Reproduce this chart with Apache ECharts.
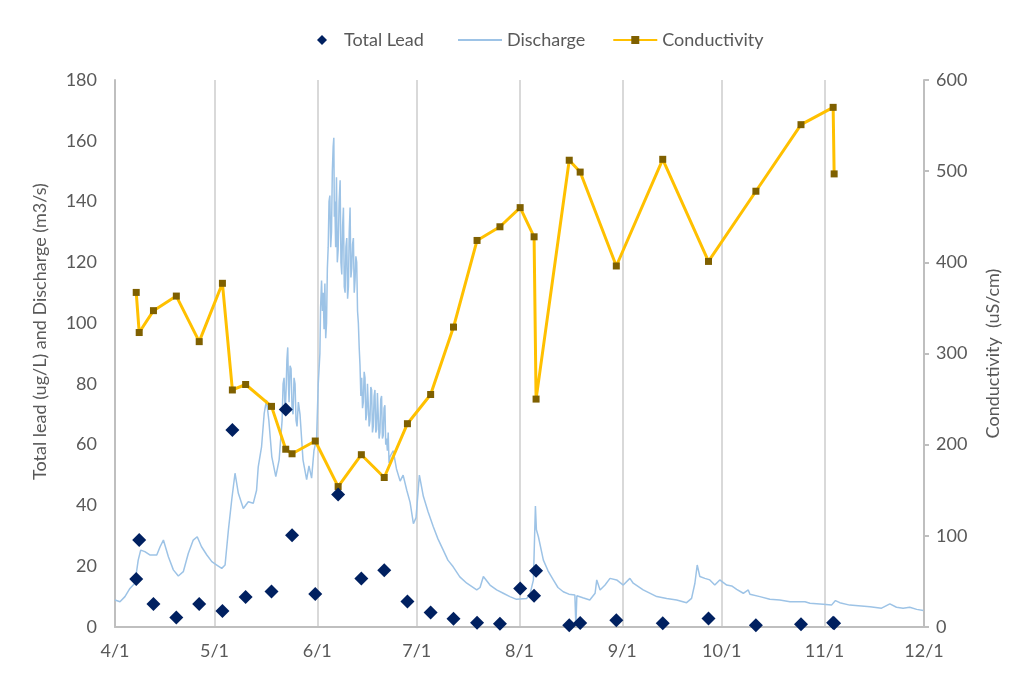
<!DOCTYPE html>
<html>
<head>
<meta charset="utf-8">
<script src="https://cdn.jsdelivr.net/npm/echarts@6/dist/echarts.min.js"></script>
<style>
  html, body { margin: 0; padding: 0; background: #fff; }
  #chart { width: 1028px; height: 675px; }
</style>
</head>
<body>
<div id="chart"></div>
<script>
// days counted from 4/1
var dischargeDay = [
  0, 1.5, 3, 4.5, 6, 7, 7.75, 9, 10.5, 12.6,
  13.6, 14.6, 16.1, 17.6, 19.1, 20.6, 22.1, 23.6, 24.8, 26.1,
  27.7, 29.2, 30.7, 32.2, 33.2, 34.2, 35.2, 36.2, 37.2, 38.7,
  40.2, 41.7, 42.7, 43.2, 44.2, 45, 45.7, 46.4, 47.3, 48.5,
  49.5,
  50.4, 50.7, 51, 51.3, 51.6, 51.85, 52.1, 52.3, 52.5, 52.8,
  53.1, 53.4, 53.7, 54, 54.3, 54.6, 54.9, 55.3, 55.8, 56.7,
  57.8, 58.5, 59.3, 60, 60.8, 61.3, 61.8,
  62, 62.3, 62.55, 62.8, 63.05, 63.3, 63.55, 63.8, 64.05, 64.3,
  64.55, 64.8, 65.05, 65.3, 65.55, 65.8, 66, 66.15, 66.3, 66.55,
  66.8, 67.05, 67.3, 67.6, 67.9, 68.15, 68.4, 68.65, 68.9, 69.15,
  69.4, 69.65, 69.9, 70.15, 70.4, 70.65, 70.9, 71.15, 71.4, 71.65,
  71.9, 72.15, 72.4, 72.65, 72.9, 73.15, 73.4, 73.65, 73.9, 74.15,
  74.4, 74.65, 74.9, 75.15, 75.4, 75.65, 75.9, 76.15, 76.4, 76.65,
  76.9, 77.15, 77.4, 77.65, 77.9, 78.15, 78.4, 78.65, 78.9, 79.15,
  79.4, 79.65, 79.9, 80.15, 80.4, 80.65, 80.9, 81.15, 81.4, 81.65,
  81.9, 82.15, 82.4, 82.65, 82.9,
  83.9, 84.9, 86, 86.9, 88, 89, 90, 90.8,
  91.8, 93, 94.4, 96, 97.4, 99, 100.4, 102, 104, 106.1,
  109.1, 110.1, 111.1, 113.1, 115.1, 117.1, 119.1, 121.1, 124.2, 125.2,
  126.2, 126.8, 127.1, 127.7, 129.2, 130.6, 132.2, 133.6, 135.2, 136.9,
  138.7, 139, 139.3, 141.1, 143.2, 144.8, 145.3, 146.3, 147.8, 149.3,
  151.3, 153.3, 155.3, 156.3, 159.3, 163.4, 166.4, 169.4, 172.4, 173.9,
  174.9, 175.6, 176.4, 177.9, 179.4, 180.9, 182.4, 184.5, 186, 187.5,
  189.5, 191, 191.5, 194.5, 197.5, 200.5, 203.6, 208.1, 209.6, 213.6,
  216.1, 217.3, 218.6, 221.6, 227.7, 231.2, 233.7, 235.7, 237.7, 239.7,
  241.8, 243.8
];
var dischargeValue = [
  8.9, 8.3, 10, 12.7, 14.4, 22, 25.3, 24.8, 23.7, 23.7,
  26.4, 28.6, 23.1, 18.8, 16.8, 18.2, 24.2, 28.6, 29.7, 26.4,
  23.7, 21.5, 20.4, 19.3, 20.4, 31.9, 41.8, 50.6, 44, 39,
  41.2, 40.7, 45, 52.7, 59.3, 70.3, 74.7, 68, 56, 49.5,
  55,
  68, 80, 82, 70, 78, 88, 92, 80, 74, 86,
  85, 72, 70, 82, 80, 68, 66, 74, 70, 55,
  48.5, 53, 49, 58, 62, 80, 90,
  105, 114, 104, 110, 98, 113, 95, 100, 118, 125,
  140, 142, 125, 130, 150, 158, 161, 135, 140, 125,
  148, 120, 124, 140, 147, 120, 116, 132, 138, 112,
  110, 125, 128, 108, 112, 130, 138, 115, 118, 126,
  128, 110, 114, 122, 120, 104, 100, 92, 86, 76,
  82, 72, 74, 84, 82, 68, 70, 80, 80, 66,
  68, 79, 78, 64, 66, 76, 78, 64, 65, 77,
  77, 62, 64, 75, 76, 62, 63, 72, 73, 60,
  62, 58, 64, 54, 56,
  58, 52, 48, 50, 45, 41, 34, 36,
  50, 43, 38, 33, 29, 25.3, 22, 19.8, 16.5, 14.4,
  12.2, 13, 16.6, 13.8, 12.2, 11.1, 10, 9.1, 9.4, 11,
  15.5, 39.8, 32, 29.7, 22, 18.5, 15.5, 13, 11.6, 10.8,
  10.5, 0.5, 10.3, 9.6, 8.9, 11.1, 15.5, 12.2, 13.8, 16,
  15.5, 13.8, 16, 14.4, 12.2, 10, 9.4, 8.9, 8, 9.4,
  14.4, 20.4, 16.6, 16, 15.5, 13.8, 15.5, 13.8, 13.5, 12.4,
  11.1, 12.2, 10.8, 10, 9.1, 8.9, 8.3, 8.3, 7.8, 7.5,
  7.2, 8.7, 8, 7.2, 6.7, 6.2, 7.6, 6.5, 6.2, 6.5,
  5.8, 5.4
];

// sampling days (from 4/1) for lead and conductivity
var sampleDay = [6.4, 7.3, 11.6, 18.5, 25.4, 32.4, 35.4, 39.4, 47.2, 51.5,
  53.4, 60.4, 67.3, 74.3, 81.2, 88.2, 95.2, 102.1, 109.2, 116.1,
  122.2, 126.4, 127.0, 137.0, 140.3, 151.2, 165.2, 179.0, 193.3, 206.9,
  216.6, 216.9];
var leadValue = [15.8, 28.6, 7.6, 3.1, 7.6, 5.3, 64.8, 9.9, 11.7, 71.6,
  30.2, 10.9, 43.6, 16, 18.7, 8.4, 4.8, 2.7, 1.4, 1.1,
  12.7, 10.3, 18.5, 0.6, 1.3, 2.2, 1.2, 2.8, 0.6, 0.9,
  1.4, 1.2];
var conductivityValue = [367, 323, 347, 363, 313, 377, 260, 266, 242, 195,
  190, 204, 154, 189, 164, 223, 255, 329, 424, 439,
  460, 428, 250, 512, 499, 396, 513, 401, 478, 551,
  570, 497];

var start = new Date(2019, 3, 1).getTime();
var end = new Date(2019, 11, 1).getTime();
var DAY = 86400000;

function pairs(days, vals) {
    var out = [];
    for (var i = 0; i < days.length; i++) {
        out.push([start + days[i] * DAY, vals[i]]);
    }
    return out;
}

var chart = echarts.init(document.getElementById('chart'));
var textColor = '#595959';
var font = 'Lato';
var fs = 18;

chart.setOption({
    animation: false,
    textStyle: { fontFamily: font },
    legend: [{
        // diamond item on its own so it keeps its shape
        top: 26,
        left: 312,
        itemWidth: 10,
        itemHeight: 10,
        textStyle: { color: textColor, fontSize: fs, padding: [0, 0, 0, 12] },
        data: ['Total Lead']
    }, {
        top: 26,
        left: 452,
        itemGap: 27,
        itemWidth: 44,
        itemHeight: 10,
        textStyle: { color: textColor, fontSize: fs },
        data: [
            { name: 'Discharge', itemStyle: { opacity: 0 } },
            'Conductivity'
        ]
    }],
    grid: { left: 115, right: 104, top: 80, bottom: 48 },
    xAxis: {
        type: 'time',
        min: start,
        max: end,
        splitNumber: 8,
        axisLine: { lineStyle: { color: '#bfbfbf', width: 2 } },
        axisTick: { show: false },
        splitLine: { show: true, lineStyle: { color: '#d9d9d9', width: 2 } },
        axisLabel: {
            color: textColor,
            fontSize: fs,
            margin: 15,
            showMinLabel: true,
            showMaxLabel: true,
            formatter: function (v) {
                var d = new Date(v);
                return (d.getMonth() + 1) + '/' + d.getDate();
            }
        }
    },
    yAxis: [{
        type: 'value',
        min: 0,
        max: 180,
        interval: 20,
        name: 'Total lead (ug/L) and Discharge (m3/s)',
        nameLocation: 'middle',
        nameRotate: 90,
        nameGap: 66,
        nameTextStyle: { color: textColor, fontSize: fs, padding: [0, 0, 0, 44] },
        axisLine: { show: true, lineStyle: { color: '#bfbfbf', width: 2 } },
        axisTick: { show: false },
        splitLine: { show: false },
        axisLabel: { color: textColor, fontSize: fs, margin: 18 }
    }, {
        type: 'value',
        min: 0,
        max: 600,
        interval: 100,
        position: 'right',
        name: 'Conductivity  (uS/cm)',
        nameLocation: 'middle',
        nameRotate: 90,
        nameGap: 60,
        nameTextStyle: { color: textColor, fontSize: fs },
        axisLine: { show: true, lineStyle: { color: '#bfbfbf', width: 2 } },
        axisTick: { show: true, length: 5, lineStyle: { color: '#bfbfbf', width: 2 } },
        splitLine: { show: false },
        axisLabel: { color: textColor, fontSize: fs, margin: 12 }
    }],
    series: [{
        name: 'Total Lead',
        type: 'scatter',
        symbol: 'diamond',
        symbolSize: 14,
        z: 5,
        itemStyle: { color: '#002060', opacity: 1 },
        data: pairs(sampleDay, leadValue)
    }, {
        name: 'Discharge',
        type: 'line',
        symbol: 'none',
        z: 2,
        lineStyle: { color: '#9dc3e6', width: 1.5 },
        itemStyle: { color: '#9dc3e6' },
        data: pairs(dischargeDay, dischargeValue)
    }, {
        name: 'Conductivity',
        type: 'line',
        yAxisIndex: 1,
        symbol: 'rect',
        symbolSize: 7,
        z: 4,
        lineStyle: { color: '#ffc000', width: 3 },
        itemStyle: { color: '#7f6000', borderWidth: 0 },
        data: pairs(sampleDay, conductivityValue)
    }]
});
</script>
</body>
</html>
